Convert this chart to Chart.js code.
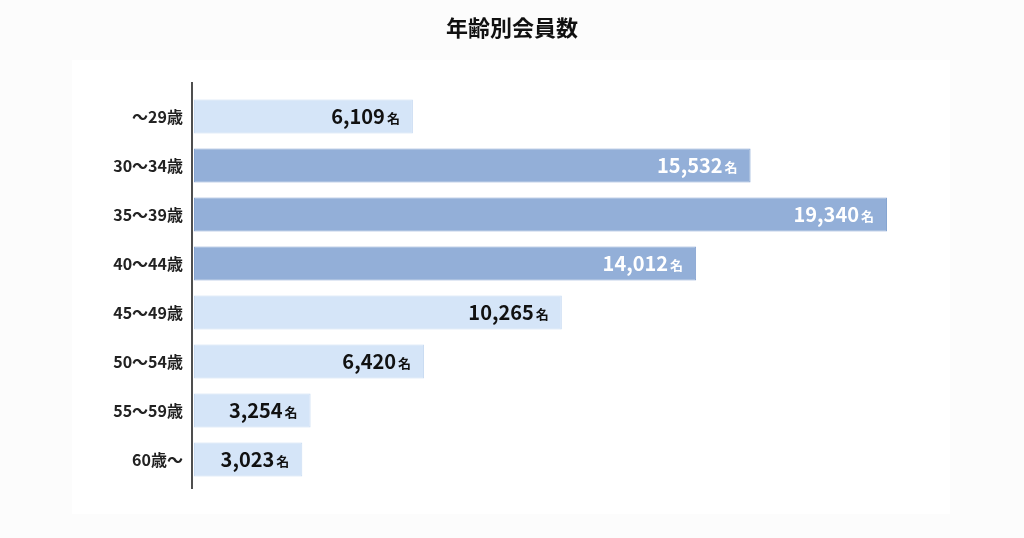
<!DOCTYPE html>
<html><head><meta charset="utf-8">
<script src="https://cdn.jsdelivr.net/npm/chart.js@4/dist/chart.umd.min.js"></script>
<style>
html,body{margin:0;padding:0;background:#fdfdfd;}
#wrap{width:1024px;height:538px;position:relative;}
</style></head>
<body><div id="wrap"><canvas id="c" width="1024" height="538"></canvas></div>
<script>
const title = "年齢別会員数";
const categories = ["～29歳","30～34歳","35～39歳","40～44歳","45～49歳","50～54歳","55～59歳","60歳～"];
const members = [6109, 15532, 19340, 14012, 10265, 6420, 3254, 3023];
const highlighted = [false, true, true, true, false, false, false, false];
const unitLabel = "名";

const FONT = "'Noto Sans CJK JP','Noto Sans',sans-serif";
const lightFill = '#d5e5f8', lightBorder = '#c8dbf2';
const darkFill = '#93afd8', darkBorder = '#87a5d1';

const panelPlugin = {
  id: 'panel',
  beforeDraw(chart) {
    const ctx = chart.ctx;
    ctx.save();
    ctx.fillStyle = '#fcfcfc';
    ctx.fillRect(0, 0, chart.width, chart.height);
    ctx.fillStyle = '#ffffff';
    ctx.fillRect(72, 60, 878, 454);
    ctx.restore();
  },
  beforeDatasetsDraw(chart) {
    const ctx = chart.ctx, a = chart.chartArea;
    ctx.save();
    ctx.strokeStyle = '#222';
    ctx.lineWidth = 1.6;
    ctx.beginPath();
    ctx.moveTo(a.left - 2, a.top - 10);
    ctx.lineTo(a.left - 2, a.bottom + 5);
    ctx.stroke();
    ctx.restore();
  }
};

const valueLabelPlugin = {
  id: 'valueLabels',
  afterDatasetsDraw(chart) {
    const ctx = chart.ctx;
    const meta = chart.getDatasetMeta(0);
    ctx.save();
    ctx.textBaseline = 'middle';
    meta.data.forEach((bar, i) => {
      const color = highlighted[i] ? '#ffffff' : '#111111';
      const right = bar.x - 13;
      ctx.fillStyle = color;
      ctx.font = "bold 13px " + FONT;
      ctx.textAlign = 'right';
      ctx.fillText(unitLabel, right, bar.y + 2);
      const uw = ctx.measureText(unitLabel).width;
      ctx.font = "bold 20px " + FONT;
      ctx.fillText(members[i].toLocaleString('en-US'), right - uw - 2, bar.y);
    });
    ctx.restore();
  }
};

new Chart(document.getElementById('c'), {
  type: 'bar',
  data: {
    labels: categories,
    datasets: [{
      data: members,
      backgroundColor: highlighted.map(h => h ? darkFill : lightFill),
      borderColor: highlighted.map(h => h ? darkBorder : lightBorder),
      borderWidth: 1,
      borderSkipped: false,
      barPercentage: 0.694,
      categoryPercentage: 1.0
    }]
  },
  options: {
    indexAxis: 'y',
    responsive: false,
    animation: false,
    devicePixelRatio: 1,
    layout: { padding: { left: 56, right: 56, top: 0, bottom: 54 } },
    plugins: {
      legend: { display: false },
      tooltip: { enabled: false },
      title: {
        display: true,
        text: title,
        color: '#111',
        font: { family: FONT, size: 22, weight: 'bold', lineHeight: 1.2 },
        padding: { top: 14, bottom: 51.6 }
      }
    },
    scales: {
      x: { display: false, min: 0, max: 21600 },
      y: {
        afterFit(s) { s.width = 138; },
        grid: { display: false, drawTicks: false },
        border: { display: false },
        ticks: {
          padding: 11,
          color: '#222',
          font: { family: FONT, size: 16, weight: 'bold' }
        }
      }
    }
  },
  plugins: [panelPlugin, valueLabelPlugin]
});
</script></body></html>
